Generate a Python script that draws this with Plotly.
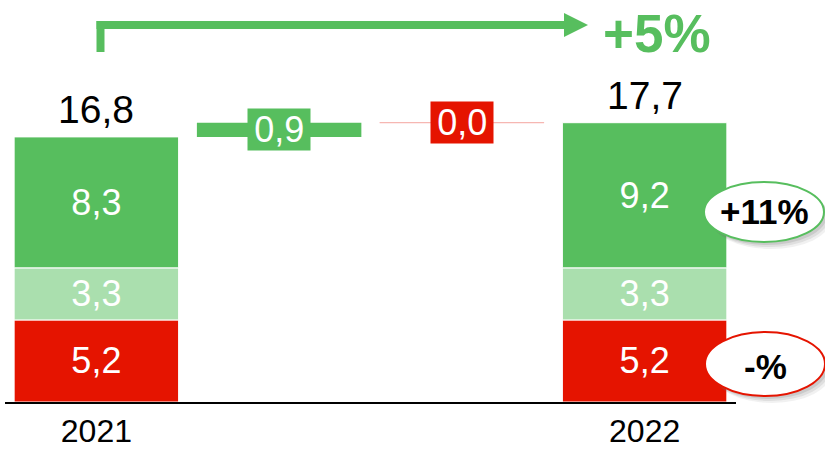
import plotly.graph_objects as go

# ---- data ----
categories = ["2021", "Δ+", "Δ-", "2022"]
years = ["2021", "2022"]
red_vals = [5.2, 5.2]
light_vals = [3.3, 3.3]
green_vals = [8.3, 9.2]
totals = [16.8, 17.7]
bridge_green = 0.9
bridge_red = 0.0
growth_total = "+5%"
growth_green = "+11%"
growth_red = "-%"

GREEN = "#57BE5E"
LIGHT = "#AADFAE"
RED = "#E51400"
FONT = "Liberation Sans, Arial, sans-serif"

def fmt(v):
    return f"{v:.1f}".replace(".", ",")

def boxed(s):
    pad = "<span style='font-size:22px'> </span>"
    return pad + s + pad

W, H = 825, 449
ML, MR, MT, MB = 5, 89, 0, 47
PW, PH = W - ML - MR, H - MT - MB
YMAX = PH / 15.78

def xp(px):
    return (px - ML) / PW

def yp(py):
    return (H - MB - py) / PH

year_x = [0, 3]
fig = go.Figure()

base_light = [r for r in red_vals]
base_green = [r + l for r, l in zip(red_vals, light_vals)]

for vals, base, col in [(red_vals, [0, 0], RED), (light_vals, base_light, LIGHT), (green_vals, base_green, GREEN)]:
    fig.add_trace(go.Bar(
        x=year_x, y=vals, base=base, width=0.9,
        marker=dict(color=col, line=dict(color="white", width=1)),
        text=[fmt(v) for v in vals], textposition="inside", insidetextanchor="middle",
        textfont=dict(color="white", size=36, family=FONT),
        hoverinfo="skip", showlegend=False,
    ))

# bridge green bar
fig.add_trace(go.Bar(
    x=[1], y=[bridge_green], base=[totals[0]], width=0.9,
    marker=dict(color=GREEN, line=dict(width=0)),
    hoverinfo="skip", showlegend=False,
))
# bridge red bar (zero height)
fig.add_trace(go.Bar(
    x=[2], y=[bridge_red], base=[totals[0] + bridge_green], width=0.9,
    marker=dict(color=RED, line=dict(color="rgba(229,20,0,0.15)", width=1)),
    hoverinfo="skip", showlegend=False,
))

shapes = []
shapes.append(dict(type="line", xref="x", yref="y", x0=1.55, x1=2.45,
                   y0=totals[0] + bridge_green, y1=totals[0] + bridge_green,
                   line=dict(color="rgba(229,20,0,0.12)", width=1), layer="above"))

annotations = []
for xi, t in zip(year_x, totals):
    annotations.append(dict(x=xi, y=t, xref="x", yref="y", text=fmt(t), showarrow=False,
                            xanchor="center", yanchor="bottom", yshift=4,
                            font=dict(size=39, color="black", family=FONT)))
annotations.append(dict(x=1, y=totals[0] + bridge_green / 2, xref="x", yref="y", text=boxed(fmt(bridge_green)),
                        showarrow=False, bgcolor=GREEN, borderpad=0, xanchor="center", yanchor="middle",
                        font=dict(size=36, color="white", family=FONT)))
annotations.append(dict(x=2, y=totals[0] + bridge_green, xref="x", yref="y", text=boxed(fmt(bridge_red)),
                        showarrow=False, bgcolor=RED, borderpad=0, xanchor="center", yanchor="middle",
                        font=dict(size=36, color="white", family=FONT)))
annotations.append(dict(x=xp(657), y=yp(33), xref="paper", yref="paper", text=f"<b>{growth_total}</b>",
                        showarrow=False, xanchor="center", yanchor="middle",
                        font=dict(size=53, color=GREEN, family=FONT)))

# elbow arrow
shapes.append(dict(type="line", xref="paper", yref="paper", x0=xp(100.5), x1=xp(100.5),
                   y0=yp(52), y1=yp(21), line=dict(color=GREEN, width=8), layer="above"))
shapes.append(dict(type="line", xref="paper", yref="paper", x0=xp(96.5), x1=xp(566),
                   y0=yp(25), y1=yp(25), line=dict(color=GREEN, width=8), layer="above"))
shapes.append(dict(type="path", xref="paper", yref="paper",
                   path=f"M {xp(564):.5f},{yp(13):.5f} L {xp(588):.5f},{yp(25):.5f} L {xp(564):.5f},{yp(37):.5f} Z",
                   line=dict(color=GREEN, width=0), fillcolor=GREEN, layer="above"))

# ellipses with soft shadow
for (x0, x1, y0, y1, col) in [(704, 824, 182, 242, GREEN), (705, 825, 332, 396, RED)]:
    for off, op in [(7, 0.10), (5, 0.15), (3, 0.2)]:
        shapes.append(dict(type="circle", xref="paper", yref="paper", layer="above",
                           x0=xp(x0 + off), x1=xp(x1 + off), y0=yp(y0 + off), y1=yp(y1 + off),
                           fillcolor=f"rgba(120,120,120,{op})", line=dict(width=0)))
    shapes.append(dict(type="circle", xref="paper", yref="paper", layer="above",
                       x0=xp(x0), x1=xp(x1), y0=yp(y0), y1=yp(y1),
                       fillcolor="white", line=dict(color=col, width=2)))

annotations.append(dict(x=xp(764), y=yp(211), xref="paper", yref="paper", text=f"<b>{growth_green}</b>",
                        showarrow=False, xanchor="center", yanchor="middle",
                        font=dict(size=35, color="black", family=FONT)))
annotations.append(dict(x=xp(766), y=yp(366), xref="paper", yref="paper", text=f"<b>{growth_red}</b>",
                        showarrow=False, xanchor="center", yanchor="middle",
                        font=dict(size=35, color="black", family=FONT)))

fig.update_layout(
    width=W, height=H,
    margin=dict(l=ML, r=MR, t=MT, b=MB, autoexpand=False),
    paper_bgcolor="white", plot_bgcolor="white",
    barmode="overlay",
    annotations=annotations, shapes=shapes,
    xaxis=dict(range=[-0.5, 3.5], tickvals=year_x, ticktext=years, showgrid=False, zeroline=False,
               showline=True, linecolor="black", linewidth=2, ticks="",
               tickfont=dict(size=32, color="black", family=FONT), fixedrange=True),
    yaxis=dict(range=[0, YMAX], visible=False, fixedrange=True),
)
fig.write_html("out.html", config={"displayModeBar": False},
               post_script="document.body.style.margin='0';document.body.style.padding='0';")
